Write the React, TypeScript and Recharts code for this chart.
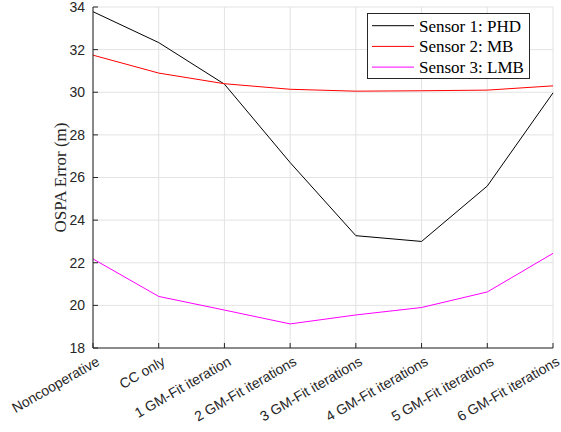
import { LineChart, Line, XAxis, YAxis, CartesianGrid, Legend } from "recharts";

const categories = [
  "Noncooperative",
  "CC only",
  "1 GM-Fit iteration",
  "2 GM-Fit iterations",
  "3 GM-Fit iterations",
  "4 GM-Fit iterations",
  "5 GM-Fit iterations",
  "6 GM-Fit iterations",
];
const sensor1 = [33.78, 32.33, 30.38, 26.7, 23.27, 23.0, 25.6, 29.97];
const sensor2 = [31.74, 30.9, 30.4, 30.14, 30.05, 30.07, 30.1, 30.3];
const sensor3 = [22.18, 20.42, 19.78, 19.13, 19.55, 19.9, 20.63, 22.44];
const yTicks = [18, 20, 22, 24, 26, 28, 30, 32, 34];

const seriesNames = ["Sensor 1: PHD", "Sensor 2: MB", "Sensor 3: LMB"];
const seriesColors = ["#000000", "#ff0000", "#ff00ff"];

const data = categories.map((name, i) => ({
  name,
  s1: sensor1[i],
  s2: sensor2[i],
  s3: sensor3[i],
}));

const axisColor = "#262626";
const sansFont = "'Liberation Sans', Arial, sans-serif";
const serifFont = "'Liberation Serif', 'Times New Roman', serif";

const BottomTick = ({ x, y, payload }: any) => (
  <g>
    <line x1={x} x2={x} y1={y} y2={y - 5} stroke={axisColor} />
    <text
      transform={`translate(${x + 5},${y + 12}) rotate(-30)`}
      textAnchor="end"
      dy="0.35em"
      fontSize={14}
      fontFamily={sansFont}
      fill={axisColor}
    >
      {payload.value}
    </text>
  </g>
);

const TopTick = ({ x, y }: any) => (
  <line x1={x} x2={x} y1={y} y2={y + 5} stroke={axisColor} />
);

const LeftTick = ({ x, y, payload }: any) => (
  <g>
    <line x1={x} x2={x + 5} y1={y} y2={y} stroke={axisColor} />
    <text
      x={x - 8}
      y={y}
      dy="0.35em"
      textAnchor="end"
      fontSize={14}
      fontFamily={sansFont}
      fill={axisColor}
    >
      {payload.value}
    </text>
  </g>
);

const RightTick = ({ x, y }: any) => (
  <line x1={x} x2={x - 5} y1={y} y2={y} stroke={axisColor} />
);

const YLabel = ({ viewBox }: any) => {
  const cx = viewBox.x + 33;
  const cy = viewBox.y + viewBox.height / 2;
  return (
    <text
      transform={`translate(${cx},${cy}) rotate(-90)`}
      textAnchor="middle"
      fontSize={17}
      fontFamily={serifFont}
      fill={axisColor}
    >
      OSPA Error (m)
    </text>
  );
};

const LegendBox = () => (
  <svg width={163} height={66} style={{ display: "block" }}>
    <rect x={0.5} y={0.5} width={162} height={65} fill="#ffffff" stroke={axisColor} />
    {seriesNames.map((n, i) => {
      const cy = 12.7 + i * 20.7;
      return (
        <g key={n}>
          <line x1={5} x2={47} y1={cy} y2={cy} stroke={seriesColors[i]} />
          <text x={52} y={cy + 6} fontSize={17} fontFamily={serifFont} fill="#000000">
            {n}
          </text>
        </g>
      );
    })}
  </svg>
);

export default function App() {
  return (
    <div style={{ position: "absolute", left: 0, top: 0, background: "#ffffff" }}>
      <LineChart
        width={561}
        height={432}
        data={data}
        margin={{ top: 7, right: 8, left: 33, bottom: 0 }}
      >
        <CartesianGrid stroke="#e3e3e3" />
        <XAxis
          dataKey="name"
          height={84}
          interval={0}
          tickSize={0}
          tickMargin={0}
          tick={<BottomTick />}
          axisLine={{ stroke: axisColor }}
        />
        <XAxis
          xAxisId="top"
          dataKey="name"
          orientation="top"
          height={0}
          interval={0}
          tickSize={0}
          tickMargin={0}
          tick={<TopTick />}
          axisLine={{ stroke: axisColor }}
        />
        <YAxis
          domain={[18, 34]}
          ticks={yTicks}
          width={60}
          interval={0}
          tickSize={0}
          tickMargin={0}
          tick={<LeftTick />}
          axisLine={{ stroke: axisColor }}
          label={<YLabel />}
        />
        <YAxis
          yAxisId="right"
          orientation="right"
          domain={[18, 34]}
          ticks={yTicks}
          width={0}
          interval={0}
          tickSize={0}
          tickMargin={0}
          tick={<RightTick />}
          axisLine={{ stroke: axisColor }}
        />
        <Legend
          layout="vertical"
          align="center"
          verticalAlign="middle"
          content={<LegendBox />}
          wrapperStyle={{ position: "absolute", left: 367, top: 13, width: 163, height: 66 }}
        />
        <Line dataKey="s1" name={seriesNames[0]} stroke={seriesColors[0]} strokeWidth={1} dot={false} isAnimationActive={false} />
        <Line dataKey="s2" name={seriesNames[1]} stroke={seriesColors[1]} strokeWidth={1} dot={false} isAnimationActive={false} />
        <Line dataKey="s3" name={seriesNames[2]} stroke={seriesColors[2]} strokeWidth={1} dot={false} isAnimationActive={false} />
      </LineChart>
    </div>
  );
}
